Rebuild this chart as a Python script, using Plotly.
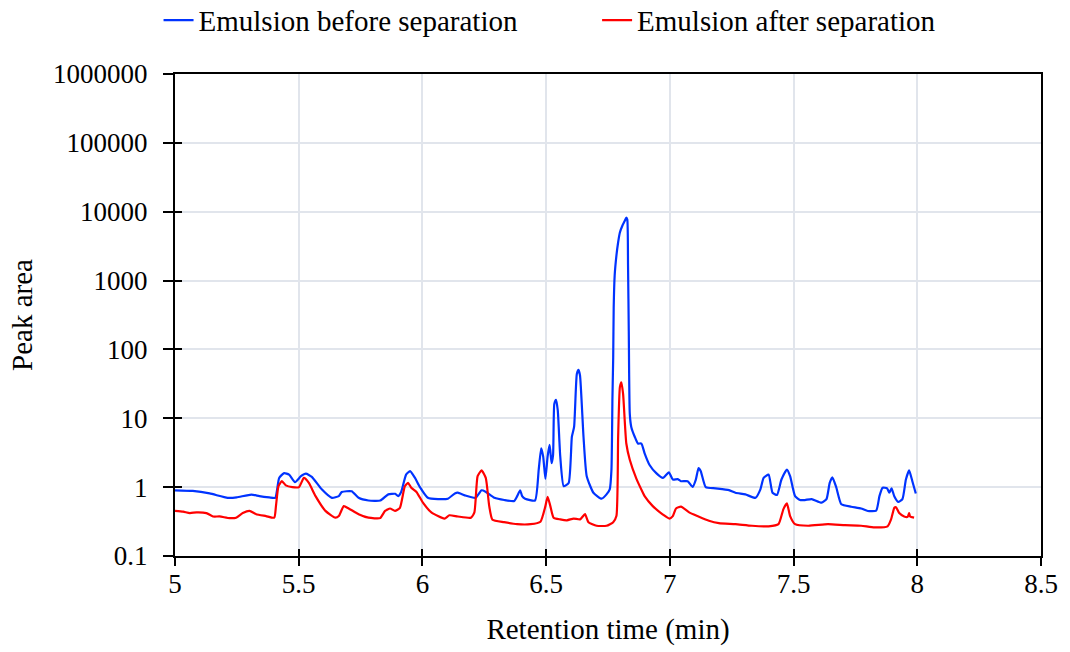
import plotly.graph_objects as go

# Retention time (min) and peak area, emulsion before separation
t_before = [5.000, 5.072, 5.140, 5.213, 5.249, 5.309, 5.341, 5.381, 5.405, 5.421, 5.441, 5.461,
            5.485, 5.509, 5.529, 5.553, 5.593, 5.634, 5.662, 5.674, 5.714, 5.742, 5.782, 5.830,
            5.862, 5.890, 5.902, 5.914, 5.934, 5.950, 5.970, 5.990, 6.022, 6.063, 6.103, 6.131,
            6.143, 6.171, 6.215, 6.239, 6.255, 6.291, 6.331, 6.371, 6.383, 6.395, 6.403, 6.415,
            6.455, 6.470, 6.480, 6.488, 6.497, 6.506, 6.514, 6.522, 6.528, 6.533, 6.540, 6.547,
            6.557, 6.571, 6.591, 6.604, 6.613, 6.624, 6.631, 6.637, 6.651, 6.664, 6.691, 6.724,
            6.744, 6.757, 6.764, 6.768, 6.771, 6.773, 6.777, 6.784, 6.791, 6.798, 6.808, 6.818,
            6.824, 6.828, 6.831, 6.834, 6.838, 6.844, 6.858, 6.871, 6.885, 6.898, 6.918, 6.945,
            6.972, 6.996, 7.012, 7.032, 7.045, 7.072, 7.092, 7.105, 7.116, 7.125, 7.145, 7.185,
            7.239, 7.265, 7.305, 7.346, 7.366, 7.379, 7.399, 7.415, 7.433, 7.451, 7.473, 7.486,
            7.506, 7.526, 7.546, 7.573, 7.613, 7.633, 7.646, 7.657, 7.673, 7.693, 7.733, 7.773,
            7.800, 7.834, 7.847, 7.860, 7.878, 7.887, 7.896, 7.907, 7.923, 7.940, 7.954, 7.967,
            7.980, 7.994]
area_before = [0.90, 0.88, 0.81, 0.70, 0.71, 0.78, 0.74, 0.71, 0.70, 1.36, 1.60, 1.52,
               1.18, 1.44, 1.57, 1.41, 0.93, 0.70, 0.74, 0.85, 0.87, 0.70, 0.64, 0.64,
               0.785, 0.80, 0.74, 0.85, 1.52, 1.71, 1.36, 1.00, 0.70, 0.67, 0.68, 0.81,
               0.83, 0.76, 0.70, 0.90, 0.86, 0.70, 0.65, 0.63, 0.74, 0.90, 0.74, 0.68,
               0.64, 1.80, 3.67, 2.79, 1.32, 2.79, 4.1, 2.23, 2.95, 16.2, 18.6, 13.0,
               2.79, 1.03, 1.15, 5.4, 7.5, 43.9, 50.6, 41.5, 5.4, 1.44, 0.83, 0.68,
               0.785, 0.93, 1.8, 20, 76, 400, 1190, 2300, 3600, 5000, 6260, 7380,
               8230, 7700, 1660, 184, 11.7, 7.5, 5.4, 4.3, 4.3, 3.1, 2.1, 1.60,
               1.36, 1.64, 1.29, 1.31, 1.22, 1.22, 1.01, 1.29, 1.89, 1.70, 1.00, 0.96,
               0.905, 0.83, 0.785, 0.70, 0.93, 1.36, 1.52, 0.83, 0.77, 1.29, 1.80, 1.44,
               0.74, 0.65, 0.65, 0.67, 0.595, 0.67, 1.15, 1.39, 0.98, 0.565, 0.52, 0.49,
               0.45, 0.456, 0.74, 0.98, 0.96, 0.83, 0.96, 0.74, 0.61, 0.67, 1.29, 1.75,
               1.22, 0.81]

# Emulsion after separation
t_after = [5.000, 5.033, 5.060, 5.087, 5.127, 5.154, 5.180, 5.221, 5.247, 5.274, 5.301, 5.328,
           5.368, 5.401, 5.408, 5.418, 5.432, 5.448, 5.474, 5.501, 5.521, 5.541, 5.568, 5.608,
           5.648, 5.662, 5.682, 5.702, 5.742, 5.782, 5.829, 5.849, 5.869, 5.889, 5.909, 5.929,
           5.942, 5.955, 5.976, 6.002, 6.036, 6.089, 6.109, 6.143, 6.196, 6.210, 6.223, 6.239,
           6.256, 6.270, 6.283, 6.330, 6.383, 6.437, 6.477, 6.497, 6.506, 6.517, 6.530, 6.557,
           6.584, 6.611, 6.637, 6.657, 6.671, 6.704, 6.744, 6.771, 6.784, 6.791, 6.798, 6.804,
           6.811, 6.824, 6.838, 6.865, 6.891, 6.898, 6.931, 6.972, 6.998, 7.012, 7.025, 7.045,
           7.078, 7.112, 7.158, 7.198, 7.265, 7.332, 7.399, 7.439, 7.459, 7.473, 7.486, 7.506,
           7.559, 7.639, 7.708, 7.773, 7.827, 7.880, 7.894, 7.907, 7.914, 7.927, 7.947, 7.961,
           7.967, 7.971, 7.987]
area_after = [0.452, 0.44, 0.42, 0.43, 0.42, 0.375, 0.375, 0.355, 0.36, 0.42, 0.452, 0.405,
              0.38, 0.36, 0.53, 1.03, 1.22, 1.06, 1.00, 1.00, 1.36, 1.15, 0.74, 0.452,
              0.36, 0.38, 0.53, 0.49, 0.405, 0.36, 0.355, 0.452, 0.49, 0.452, 0.50, 1.03,
              1.15, 0.98, 0.85, 0.595, 0.43, 0.35, 0.39, 0.375, 0.36, 0.43, 1.44, 1.75,
              1.36, 0.53, 0.336, 0.31, 0.29, 0.29, 0.315, 0.53, 0.725, 0.53, 0.36, 0.34,
              0.33, 0.35, 0.34, 0.405, 0.31, 0.275, 0.275, 0.31, 0.38, 5.4, 28.3, 33.3,
              22.6, 4.3, 2.5, 1.32, 0.83, 0.74, 0.53, 0.40, 0.35, 0.38, 0.49, 0.52,
              0.43, 0.38, 0.325, 0.30, 0.29, 0.275, 0.27, 0.29, 0.48, 0.58, 0.38, 0.29,
              0.275, 0.29, 0.28, 0.275, 0.26, 0.27, 0.34, 0.50, 0.51, 0.42, 0.375, 0.37,
              0.42, 0.375, 0.36]

x_ticks = [5, 5.5, 6, 6.5, 7, 7.5, 8, 8.5]
x_tick_labels = ["5", "5.5", "6", "6.5", "7", "7.5", "8", "8.5"]
y_ticks = [0.1, 1, 10, 100, 1000, 10000, 100000, 1000000]
y_tick_labels = ["0.1", "1", "10", "100", "1000", "10000", "100000", "1000000"]

FONT = "Liberation Serif, Times New Roman, serif"
BLUE = "#0033ff"
RED = "#ff0000"

fig = go.Figure()
fig.add_trace(go.Scatter(x=t_before, y=area_before, mode="lines", name="Emulsion before separation",
                         line=dict(color=BLUE, width=2.2, shape="spline", smoothing=0.5),
                         legend="legend"))
fig.add_trace(go.Scatter(x=t_after, y=area_after, mode="lines", name="Emulsion after separation",
                         line=dict(color=RED, width=2.2, shape="spline", smoothing=0.5),
                         legend="legend2"))

axis_common = dict(showline=True, linecolor="black", linewidth=2, mirror=True,
                   ticks="outside", tickcolor="black", tickwidth=1.5,
                   gridcolor="#e1e5ec", gridwidth=2, zeroline=False,
                   tickfont=dict(family=FONT, size=27, color="black"))

legend_common = dict(orientation="h", xanchor="left", y=0.969, yanchor="middle", yref="container",
                     font=dict(family=FONT, size=29, color="black"), bgcolor="rgba(0,0,0,0)")

fig.update_layout(
    width=1070, height=652,
    margin=dict(l=175, r=22, t=74, b=91),
    paper_bgcolor="white", plot_bgcolor="white",
    font=dict(family=FONT, size=27, color="black"),
    showlegend=True,
    legend=dict(x=-0.019, **legend_common),
    legend2=dict(x=0.4874, **legend_common),
    xaxis=dict(range=[5, 8.5], tickvals=x_ticks, ticktext=x_tick_labels, ticklen=8,
               ticklabelstandoff=-5,
               title=dict(text="Retention time (min)", font=dict(family=FONT, size=29), standoff=20),
               **axis_common),
    yaxis=dict(type="log", range=[-1, 6], tickvals=y_ticks, ticktext=y_tick_labels, ticklen=10,
               ticklabelstandoff=10,
               title=dict(text="Peak area", font=dict(family=FONT, size=29), standoff=12),
               **axis_common),
    xaxis2=dict(range=[5, 8.5], overlaying="x", tickvals=x_ticks, showticklabels=False,
                ticks="inside", ticklen=7, tickwidth=1.5, tickcolor="black", showgrid=False,
                showline=False, zeroline=False),
    yaxis2=dict(type="log", range=[-1, 6], overlaying="y", tickvals=y_ticks, showticklabels=False,
                ticks="inside", ticklen=7, tickwidth=1.5, tickcolor="black", showgrid=False,
                showline=False, zeroline=False),
)
# invisible trace to activate overlay axes with inside ticks
fig.add_trace(go.Scatter(x=[5], y=[1], xaxis="x2", yaxis="y2", mode="markers",
                         marker=dict(opacity=0), showlegend=False, hoverinfo="skip"))

fig.write_html("out.html")
